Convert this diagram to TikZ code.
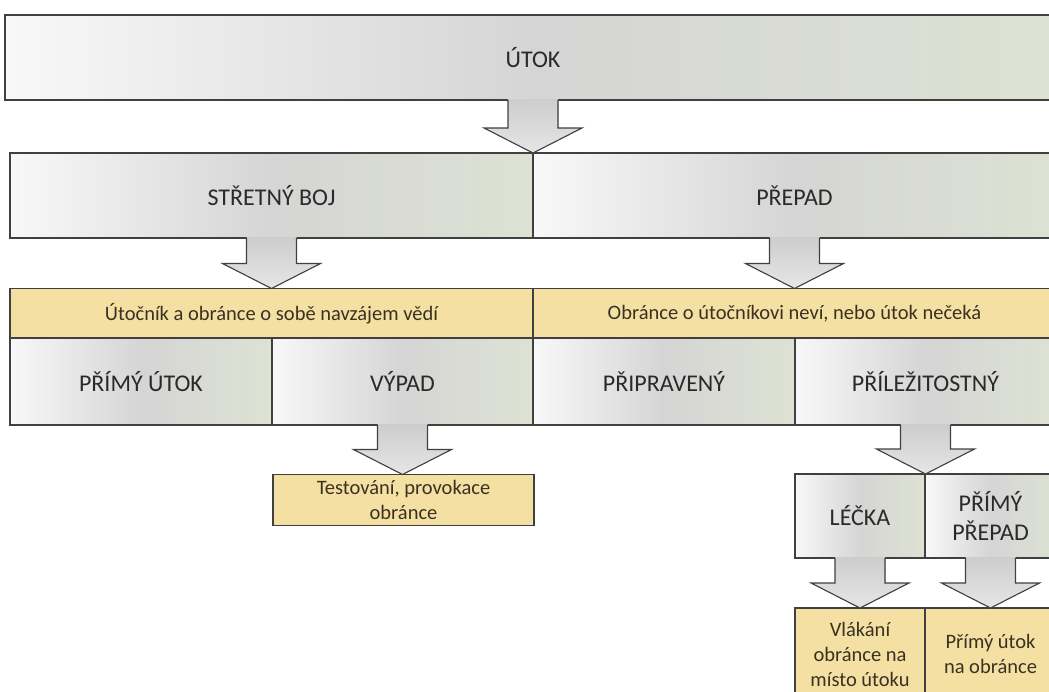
\documentclass[tikz,border=0pt]{standalone}
\usepackage{fontspec}
\setmainfont{Carlito}
\usetikzlibrary{calc}

\definecolor{edgegray}{HTML}{404040}
\definecolor{boxlight}{HTML}{F8F8F8}
\definecolor{boxmid}{HTML}{D5D5D5}
\definecolor{boxgreen}{HTML}{DDE2D3}
\definecolor{bandyellow}{HTML}{F4E0A2}
\definecolor{arrowtop}{HTML}{CDCDCD}
\definecolor{arrowbot}{HTML}{E6E6E6}
\definecolor{inkdark}{HTML}{2A2A2A}
\definecolor{inkbrown}{HTML}{3A3122}

\tikzset{
	% style for the grey boxes with a left-to-right gradient
	grey box/.style={
		draw=edgegray, line width=1.1pt, outer sep=0pt, inner sep=0pt,
		left color=boxlight, right color=boxgreen, middle color=boxmid,
		text=inkdark, align=center, font=\fontsize{24}{29}\selectfont
	},
	% style for the yellow label bars
	yellow box/.style={
		draw=edgegray, line width=1.1pt, outer sep=0pt, inner sep=0pt,
		fill=bandyellow, text=inkbrown, align=center,
		font=\fontsize{20.5}{25}\selectfont
	},
	% style for the outline of a block arrow
	block arrow/.style={draw=edgegray, line width=1.1pt, line join=miter},
}

% block arrow from the bottom of #1 down to the top of #2
\newcommand{\blockarrow}[2]{%
	\fill[top color=arrowtop, bottom color=arrowbot]
	let \p1=(#1.south), \p2=(#2.north) in
	(\x1-25pt,\y1+0.9pt) -- (\x1-25pt,\y2+25pt) -- (\x1-49pt,\y2+25pt)
	-- (\x1,\y2) -- (\x1+49pt,\y2+25pt) -- (\x1+25pt,\y2+25pt)
	-- (\x1+25pt,\y1+0.9pt) -- cycle;
	\draw[block arrow]
	let \p1=(#1.south), \p2=(#2.north) in
	(\x1-25pt,\y1) -- (\x1-25pt,\y2+25pt) -- (\x1-49pt,\y2+25pt)
	-- (\x1,\y2) -- (\x1+49pt,\y2+25pt) -- (\x1+25pt,\y2+25pt)
	-- (\x1+25pt,\y1);
}

\begin{document}
\begin{tikzpicture}[x=1pt,y=-1pt]
	\useasboundingbox (0,0) rectangle (1049,691);
	\clip (0,0) rectangle (1049,691);
	% top level
	\node[grey box, minimum width=1056pt, minimum height=85pt] (utok) at (533,57.5) {ÚTOK};
	% second row
	\node[grey box, minimum width=523pt, minimum height=85pt] (stret) at (271.5,195.5) {STŘETNÝ BOJ};
	\node[grey box, minimum width=523pt, minimum height=85pt] (prepad) at (794.5,195.5) {PŘEPAD};
	% yellow bars
	\node[yellow box, minimum width=523pt, minimum height=50pt] (vedi) at (271.5,313.5) {Útočník a obránce o sobě navzájem vědí};
	\node[yellow box, minimum width=523pt, minimum height=50pt] (nevi) at (794.5,313.5) {Obránce o útočníkovi neví, nebo útok nečeká};
	% third row
	\node[grey box, minimum width=262pt, minimum height=87pt] (primy) at (141,381.5) {PŘÍMÝ ÚTOK};
	\node[grey box, minimum width=261pt, minimum height=87pt] (vypad) at (402.5,381.5) {VÝPAD};
	\node[grey box, minimum width=262pt, minimum height=87pt] (pripr) at (664,381.5) {PŘIPRAVENÝ};
	\node[grey box, minimum width=261pt, minimum height=87pt] (prilez) at (925.5,381.5) {PŘÍLEŽITOSTNÝ};
	% below the third row
	\node[yellow box, minimum width=261pt, minimum height=51pt] (test) at (403.5,500) {Testování, provokace\\obránce};
	\node[grey box, minimum width=130pt, minimum height=84pt] (lecka) at (860,516) {LÉČKA};
	\node[grey box, minimum width=131pt, minimum height=84pt] (pprepad) at (990.5,516) {PŘÍMÝ\\PŘEPAD};
	\node[yellow box, minimum width=130pt, minimum height=92pt] (vlak) at (860,654) {Vlákání\\obránce na\\místo útoku};
	\node[yellow box, minimum width=131pt, minimum height=92pt] (putok) at (990.5,654) {Přímý útok\\na obránce};
	% arrows
	\blockarrow{utok}{stret}
	\blockarrow{stret}{vedi}
	\blockarrow{prepad}{nevi}
	\blockarrow{vypad}{test}
	\blockarrow{prilez}{lecka}
	\blockarrow{lecka}{vlak}
	\blockarrow{pprepad}{putok}
\end{tikzpicture}
\end{document}
